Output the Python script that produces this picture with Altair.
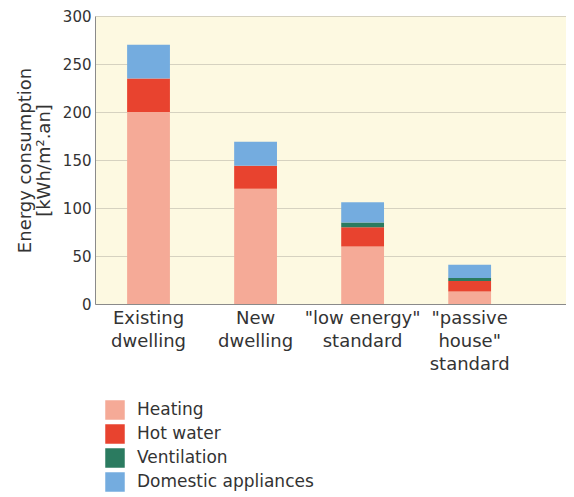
import altair as alt
import pandas as pd

categories = ["Existing|dwelling", "New|dwelling", '"low energy"|standard', '"passive|house"|standard']
components = ["Heating", "Hot water", "Ventilation", "Domestic appliances"]
colors = ["#f5aa97", "#e8432f", "#2b7b60", "#74acdf"]

heating = [200, 120, 60, 13]
hot_water = [35, 24, 20, 11]
ventilation = [0, 0, 5, 3]
appliances = [35, 25, 21, 14]

series = [heating, hot_water, ventilation, appliances]
rows = []
for ci, comp in enumerate(components):
    for ki, cat in enumerate(categories):
        rows.append({"category": cat, "component": comp, "idx": ci, "value": series[ci][ki]})
df = pd.DataFrame(rows)

FONT = "DejaVu Sans"
TXT = "#333333"

chart = alt.Chart(df).mark_bar(strokeWidth=0).encode(
    x=alt.X(
        "category:N",
        sort=categories,
        scale=alt.Scale(paddingInner=0.6, paddingOuter=0.5, align=0.3),
        axis=alt.Axis(
            title=None,
            labelExpr="split(datum.label, '|')",
            labelAngle=0,
            ticks=False,
            tickSize=0,
            domainColor="#8a8a8a",
            labelFontSize=18,
            labelLineHeight=23,
            labelPadding=5,
            labelColor=TXT,
            labelFont=FONT,
            labelBaseline="top",
        ),
    ),
    y=alt.Y(
        "value:Q",
        stack="zero",
        scale=alt.Scale(domain=[0, 300], nice=False),
        axis=alt.Axis(
            values=[0, 50, 100, 150, 200, 250, 300],
            title=["Energy consumption", "[kWh/m².an]"],
            titleFont=FONT,
            titleFontSize=18,
            titleFontWeight="normal",
            titleColor=TXT,
            titlePadding=9,
            titleLineHeight=19,
            ticks=False,
            tickSize=0,
            labelPadding=4,
            labelFont=FONT,
            labelFontSize=15,
            labelColor=TXT,
            domainColor="#8a8a8a",
            gridColor="#d6d2c0",
        ),
    ),
    color=alt.Color(
        "component:N",
        sort=components,
        scale=alt.Scale(domain=components, range=colors),
        legend=alt.Legend(
            title=None,
            orient="none",
            legendX=10,
            legendY=384,
            padding=0,
            symbolType="square",
            symbolSize=380,
            symbolStrokeWidth=0,
            symbolOpacity=1,
            labelFont=FONT,
            labelFontSize=17,
            labelColor=TXT,
            labelOffset=12,
            labelLimit=400,
            rowPadding=4,
        ),
    ),
    order=alt.Order("idx:Q", sort="ascending"),
).properties(
    width=471,
    height=288,
    autosize="none",
    padding={"left": 87, "top": 8, "right": 0, "bottom": 192},
).configure_view(
    fill="#fdf9e1",
    strokeWidth=0,
)

chart.save("out.html", embed_options={"renderer": "svg", "actions": False})
